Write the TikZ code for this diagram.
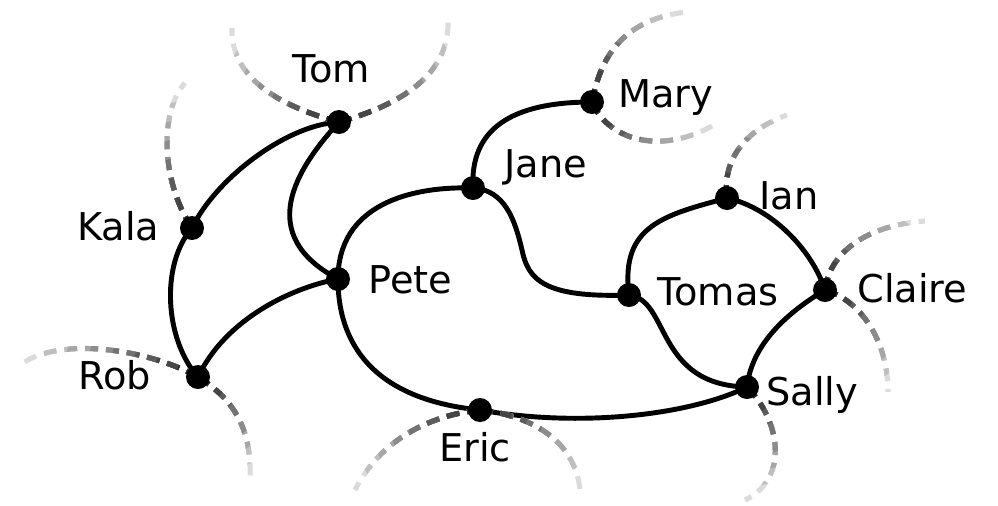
\documentclass[tikz,border=0pt]{standalone}
\usepackage{fontspec}
\setmainfont{DejaVu Sans}
\usetikzlibrary{backgrounds}

\tikzset{
  person/.style={circle, fill=black, draw=none, minimum size=0.48cm, inner sep=0pt},
  lbl/.style={anchor=base west, inner sep=0pt, font=\fontsize{21.8pt}{26pt}\selectfont},
  tiepath/.style={line width=2.8pt, draw=black},
  loosepath/.style={line width=2.9pt, dash pattern=on 7.4pt off 4.5pt},
}

% A loose tie: a dashed curve leaving a person, getting lighter with distance.
% #1 start node, #2 reach of the curve, #3 rest of the path
\newcommand\looseend[3]{%
  \foreach \r/\g in {3/14,0.875/25,0.75/35,0.625/45,0.5/55,0.375/64,0.25/73,0.125/82}{%
    \begin{scope}
      \clip (#1.center) circle[radius=#2*\r];
      \draw[loosepath, draw=black!\g] (#1.center) #3;
    \end{scope}
  }%
}

\begin{document}
\begin{tikzpicture}[x=0.02cm, y=-0.02cm]
\useasboundingbox (0,0) rectangle (998,505);

% people
\node[person] (tom)    at (339,122) {};
\node[person] (kala)   at (192,228) {};
\node[person] (pete)   at (338,279) {};
\node[person] (rob)    at (198,377) {};
\node[person] (jane)   at (473,188) {};
\node[person] (mary)   at (592,102) {};
\node[person] (ian)    at (727,198) {};
\node[person] (tomas)  at (629,295) {};
\node[person] (claire) at (825,290) {};
\node[person] (sally)  at (747,387) {};
\node[person] (eric)   at (480,410) {};

% names
\node[lbl] (tomname)    at (292,82)  {Tom};
\node[lbl] (kalaname)   at (77,240)  {Kala};
\node[lbl] (petename)   at (368,293) {Pete};
\node[lbl] (robname)    at (78,389)  {Rob};
\node[lbl] (janename)   at (504,177) {Jane};
\node[lbl] (maryname)   at (618,107) {Mary};
\node[lbl] (ianname)    at (759,209) {Ian};
\node[lbl] (tomasname)  at (657,305) {Tomas};
\node[lbl] (clairename) at (857,302) {Claire};
\node[lbl] (sallyname)  at (766,405) {Sally};
\node[lbl] (ericname)   at (439,461) {Eric};

% free ends of the loose ties
\coordinate (tomL)    at (232,28);
\coordinate (tomR)    at (448,20);
\coordinate (kalaU)   at (185,83);
\coordinate (robL)    at (20,365);
\coordinate (robD)    at (250,480);
\coordinate (ericL)   at (355,490);
\coordinate (ericR)   at (580,490);
\coordinate (sallyD)  at (745,500);
\coordinate (claireU) at (925,221);
\coordinate (claireD) at (888,392);
\coordinate (ianU)    at (787,115);
\coordinate (maryU)   at (686,12);
\coordinate (maryD)   at (712,126);

\begin{scope}[on background layer]
  % ties between people
  \draw[tiepath] (tom.center) .. controls (285,125) and (215,180) .. (kala.center);
  \draw[tiepath] (kala.center) .. controls (160,265) and (165,340) .. (rob.center);
  \draw[tiepath] (tom.center) .. controls (295,170) and (255,235) .. (pete.center);
  \draw[tiepath] (pete.center) .. controls (290,288) and (225,320) .. (rob.center);
  \draw[tiepath] (pete.center) .. controls (338,205) and (410,186) .. (jane.center);
  \draw[tiepath] (pete.center) .. controls (338,350) and (380,400) .. (eric.center);
  \draw[tiepath] (eric.center) .. controls (580,428) and (690,415) .. (sally.center);
  \draw[tiepath] (jane.center) .. controls (470,130) and (510,102) .. (mary.center);
  \draw[tiepath] (jane.center) .. controls (505,190) and (515,220) .. (522,250)
                 .. controls (528,280) and (545,298) .. (tomas.center);
  \draw[tiepath] (tomas.center) .. controls (620,225) and (665,215) .. (ian.center);
  \draw[tiepath] (ian.center) .. controls (772,208) and (812,250) .. (claire.center);
  \draw[tiepath] (tomas.center) .. controls (670,300) and (655,385) .. (sally.center);
  \draw[tiepath] (claire.center) .. controls (795,308) and (752,340) .. (sally.center);

  % loose ties
  \looseend{tom}{142}{.. controls (285,108) and (230,80) .. (tomL)}
  \looseend{tom}{149}{.. controls (400,105) and (450,75) .. (tomR)}
  \looseend{kala}{145}{.. controls (160,180) and (160,110) .. (kalaU)}
  \looseend{rob}{178}{.. controls (150,350) and (60,335) .. (robL)}
  \looseend{rob}{115}{.. controls (235,400) and (252,430) .. (robD)}
  \looseend{eric}{148}{.. controls (430,415) and (380,440) .. (ericL)}
  \looseend{eric}{128}{.. controls (530,415) and (575,440) .. (ericR)}
  \looseend{sally}{113}{.. controls (780,420) and (790,478) .. (sallyD)}
  \looseend{claire}{121}{.. controls (830,250) and (870,225) .. (claireU)}
  \looseend{claire}{120}{.. controls (860,300) and (888,340) .. (claireD)}
  \looseend{ian}{102}{.. controls (722,160) and (745,130) .. (ianU)}
  \looseend{mary}{130}{.. controls (600,60) and (620,20) .. (maryU)}
  \looseend{mary}{122}{.. controls (608,140) and (660,155) .. (maryD)}
\end{scope}
\end{tikzpicture}
\end{document}
